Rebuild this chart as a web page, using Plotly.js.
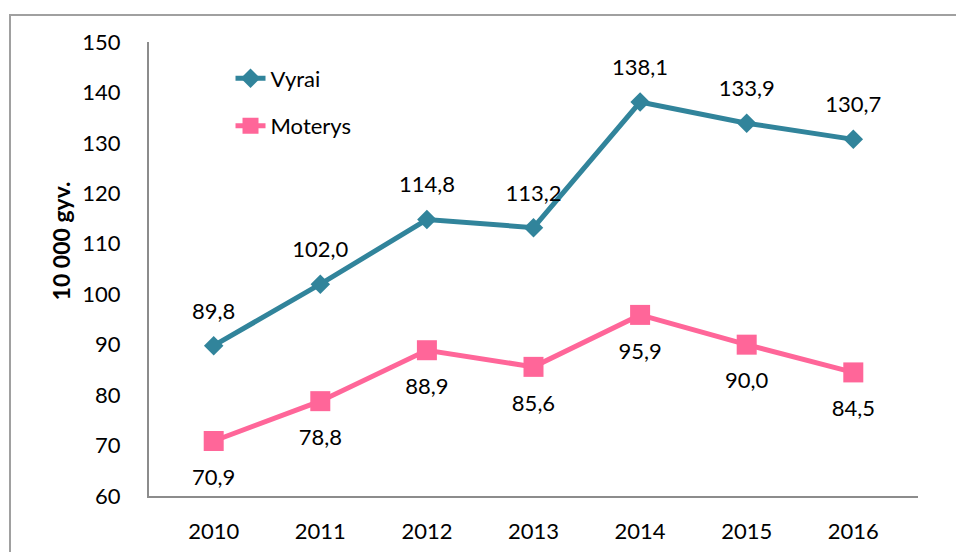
<!DOCTYPE html>
<html>
<head>
<meta charset="utf-8">
<script src="https://cdn.plot.ly/plotly-3.0.1.min.js"></script>
<style>
html,body{margin:0;padding:0;background:#fff;overflow:hidden;}
#wrap{position:relative;width:956px;height:552px;}
#chart{position:absolute;left:0;top:0;width:956px;height:552px;}
#frame{position:absolute;left:9px;top:14px;width:1000px;height:600px;border-left:2px solid #a0a0a0;border-top:2px solid #a0a0a0;pointer-events:none;}
</style>
</head>
<body>
<div id="wrap"><div id="chart"></div><div id="frame"></div></div>
<script>
var years = ['2010','2011','2012','2013','2014','2015','2016'];
var vyrai = [89.8, 102.0, 114.8, 113.2, 138.1, 133.9, 130.7];
var moterys = [70.9, 78.8, 88.9, 85.6, 95.9, 90.0, 84.5];
var yTicks = [60,70,80,90,100,110,120,130,140,150];

var fmt = function(v){ return v.toFixed(1).replace('.', ','); };
var FONT = 'Lato, "Open Sans", sans-serif';
var FS = 22;
var teal = '#31849B';
var pink = '#FF6699';

var traces = [
  {x: years, y: vyrai, name: 'Vyrai', type: 'scatter', mode: 'lines+markers',
   line: {color: teal, width: 5}, marker: {symbol: 'diamond', size: 15, color: teal},
   legendgroup: 'a'},
  {x: years, y: moterys, name: 'Moterys', type: 'scatter', mode: 'lines+markers',
   line: {color: pink, width: 5}, marker: {symbol: 'square', size: 20, color: pink},
   legendgroup: 'b'},
  {x: years, y: vyrai, type: 'scatter', mode: 'markers+text', showlegend: false,
   text: vyrai.map(fmt), textposition: 'top center', hoverinfo: 'skip',
   marker: {size: 33, opacity: 0}, textfont: {family: FONT, size: FS, color: '#000'}},
  {x: years, y: moterys, type: 'scatter', mode: 'markers+text', showlegend: false,
   text: moterys.map(fmt), textposition: 'bottom center', hoverinfo: 'skip',
   marker: {size: 42, opacity: 0}, textfont: {family: FONT, size: FS, color: '#000'}}
];

var layout = {
  width: 956, height: 552,
  margin: {l: 149, r: 38, t: 42, b: 56, pad: 0},
  paper_bgcolor: '#fff', plot_bgcolor: '#fff',
  font: {family: FONT, size: FS, color: '#000'},
  showlegend: true,
  legend: {x: 0.106, y: 0.966, xanchor: 'left', yanchor: 'top', traceorder: 'grouped',
           tracegroupgap: 16, bgcolor: 'rgba(0,0,0,0)', font: {family: FONT, size: FS, color: '#000'}},
  xaxis: {type: 'category', showgrid: false, zeroline: false, showline: true,
          linecolor: '#8c8c8c', linewidth: 2, ticks: 'outside', ticklen: 15, tickcolor: 'rgba(0,0,0,0)',
          tickfont: {family: FONT, size: FS, color: '#000'}, fixedrange: true},
  yaxis: {range: [60, 150], tickvals: yTicks, ticktext: yTicks.map(String), showgrid: false,
          zeroline: false, showline: true, linecolor: '#8c8c8c', linewidth: 2,
          ticks: 'outside', ticklen: 22, tickcolor: 'rgba(0,0,0,0)',
          tickfont: {family: FONT, size: FS, color: '#000'}, fixedrange: true},
  annotations: [{text: '<b>10 000 gyv.</b>', xref: 'paper', yref: 'paper', x: -0.115, y: 0.562,
                 xanchor: 'center', yanchor: 'middle',
                 textangle: -90, showarrow: false, font: {family: FONT, size: 23, color: '#000'}}]
};

Plotly.newPlot('chart', traces, layout, {displayModeBar: false, staticPlot: true});
</script>
</body>
</html>
